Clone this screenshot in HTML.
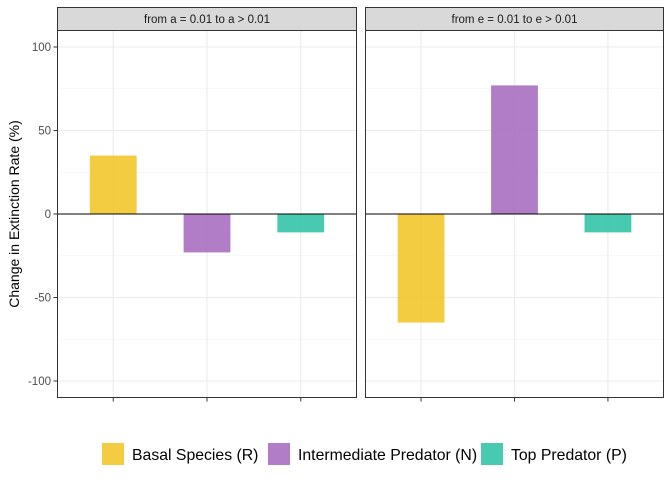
<!DOCTYPE html>
<html><head><meta charset="utf-8"><style>
body{margin:0;background:#fff;font-family:"Liberation Sans",sans-serif}
</style></head><body>
<svg id="c" width="672" height="480" xmlns="http://www.w3.org/2000/svg" font-family="Liberation Sans, sans-serif"></svg>
<script>
const panels=["from a = 0.01 to a > 0.01","from e = 0.01 to e > 0.01"];
const categories=["Basal Species (R)","Intermediate Predator (N)","Top Predator (P)"];
const valuesA=[35,-23,-11];
const valuesE=[-65,77,-11];
const yTicks=[-100,-50,0,50,100];
const colors=["#F2C72E","#A86FC1","#33C4A6"];
const NS="http://www.w3.org/2000/svg";
const svg=document.getElementById('c');
function el(t,a,p){const e=document.createElementNS(NS,t);for(const k in a)e.setAttribute(k,a[k]);(p||svg).appendChild(e);return e;}
const y=v=>214-v*1.67;
const px=[[57,357],[365,664]];
const series=[valuesA,valuesE];
const bw=46.8;
el('text',{x:19,y:214,transform:'rotate(-90 19 214)','text-anchor':'middle','font-size':14,fill:'#000'}).textContent='Change in Extinction Rate (%)';
panels.forEach((title,pi)=>{
  const [x0,x1]=px[pi];const w=x1-x0;const unit=w/3.2;
  const x=i=>x0+(i+1-0.4)*unit;
  const g=el('g',{});
  
  
  el('rect',{x:x0,y:30,width:w,height:368,fill:'#fff'},g);
  [-75,-25,25,75].forEach(v=>el('line',{x1:x0,x2:x1,y1:y(v),y2:y(v),stroke:'#f0f0f0','stroke-width':0.6},g));
  yTicks.forEach(v=>el('line',{x1:x0,x2:x1,y1:y(v),y2:y(v),stroke:'#ebebeb','stroke-width':1.1},g));
  categories.forEach((c,i)=>el('line',{x1:x(i),x2:x(i),y1:30,y2:398,stroke:'#ebebeb','stroke-width':1.1},g));
  series[pi].forEach((v,i)=>{
    const b=el('rect',{x:x(i)-bw/2,y:Math.min(y(v),y(0)),width:bw,height:Math.abs(y(v)-y(0)),fill:colors[i],'fill-opacity':0.9},g);
    
    
    el('line',{x1:x(i),x2:x(i),y1:398,y2:401.5,stroke:'#333','stroke-width':1},g);
  });
  el('line',{x1:x0,x2:x1,y1:y(0),y2:y(0),stroke:'#000','stroke-width':1},g);
  el('rect',{x:x0+0.5,y:30.5,width:w-1,height:367,fill:'none',stroke:'#333','stroke-width':1},g);
  const s=el('rect',{x:x0+0.5,y:7.5,width:w-1,height:23,fill:'#d9d9d9',stroke:'#333','stroke-width':1});
  
  
  el('text',{x:(x0+x1)/2,y:23,'text-anchor':'middle','font-size':11.5,fill:'#1a1a1a'}).textContent=title;
});
yTicks.forEach(v=>{
  el('line',{x1:53.5,x2:57,y1:y(v),y2:y(v),stroke:'#333'});
  const t=el('text',{x:51,y:y(v)+4,'text-anchor':'end','font-size':11.5,fill:'#4d4d4d'});t.textContent=v;
  
  
});
const lx=[102,268,481];
categories.forEach((c,i)=>{
  const g=el('g',{});
  
  
  el('rect',{x:lx[i],y:443,width:22,height:22,fill:colors[i],'fill-opacity':0.9},g);
  el('text',{x:lx[i]+30,y:460,'font-size':15.8,fill:'#000'},g).textContent=c;
});
</script>
</body></html>
